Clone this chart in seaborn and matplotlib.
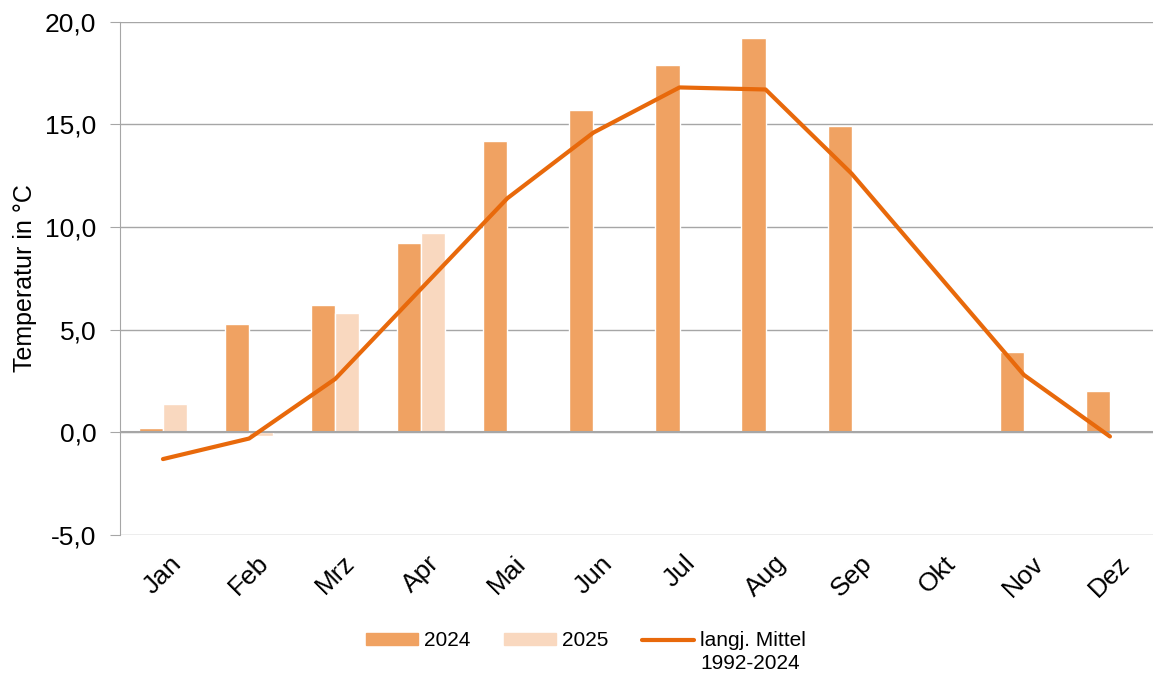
import numpy as np
import pandas as pd
import seaborn as sns
import matplotlib.pyplot as plt
from matplotlib.ticker import FuncFormatter
from matplotlib.patches import Patch
from matplotlib.lines import Line2D

months = ["Jan", "Feb", "Mrz", "Apr", "Mai", "Jun", "Jul", "Aug", "Sep", "Okt", "Nov", "Dez"]
t2024 = [0.2, 5.3, 6.2, 9.2, 14.2, 15.7, 17.9, 19.2, 14.9, np.nan, 3.9, 2.0]
t2025 = [1.4, -0.2, 5.8, 9.7, np.nan, np.nan, np.nan, np.nan, np.nan, np.nan, np.nan, np.nan]
mittel = [-1.3, -0.3, 2.6, 7.0, 11.4, 14.6, 16.8, 16.7, 12.6, 7.7, 2.8, -0.2]

df = pd.DataFrame({
    "Monat": months * 2,
    "Jahr": ["2024"] * 12 + ["2025"] * 12,
    "Temperatur": t2024 + t2025,
})

sns.set_style("white")
plt.rcParams['font.family'] = ['Liberation Sans', 'DejaVu Sans']
plt.rcParams['text.color'] = 'black'
plt.rcParams['xtick.labelcolor'] = 'black'
plt.rcParams['ytick.labelcolor'] = 'black'
plt.rcParams['axes.labelcolor'] = 'black'

fig = plt.figure(figsize=(11.53, 6.79), dpi=100)
ax = fig.add_axes([0.104, 0.212, 0.896, 0.756])

sns.barplot(data=df, x="Monat", y="Temperatur", hue="Jahr", order=months,
            palette={"2024": "#F0A262", "2025": "#F9D8BF"}, width=0.56,
            saturation=1, ax=ax, legend=False)
sns.lineplot(x=np.arange(len(months)), y=mittel, color="#E8690B", linewidth=3,
             ax=ax, legend=False)

ax.set_ylim(-5, 20)
ax.set_xlim(-0.5, 11.5)
ax.set_yticks(np.arange(-5, 20.1, 5))
ax.yaxis.set_major_formatter(FuncFormatter(lambda v, p: f"{v:.1f}".replace(".", ",")))
ax.grid(axis="y", color="#A6A6A6", linewidth=1)
ax.set_axisbelow(True)
ax.axhline(0, color="#A6A6A6", linewidth=1.5, zorder=1)
for s in ["top", "right", "bottom"]:
    ax.spines[s].set_visible(False)
ax.spines["left"].set_color("#A6A6A6")
ax.tick_params(axis="y", left=True, length=7, color="#A6A6A6", labelsize=19, pad=10)
ax.tick_params(axis="x", labelsize=19, pad=8)
plt.setp(ax.get_xticklabels(), rotation=45)
ax.set_xlabel("")
ax.set_ylabel("Temperatur in °C", fontsize=18, labelpad=6)

handles = [Patch(color="#F0A262"), Patch(color="#F9D8BF"),
           Line2D([], [], color="#E8690B", linewidth=3)]
labels = ["2024", "2025", "langj. Mittel"]
leg = fig.legend(handles, labels, loc="center", bbox_to_anchor=(0.508, 0.056),
                 ncol=3, frameon=False, fontsize=15, handlelength=2.5, handleheight=0.55,
                 columnspacing=1.6, handletextpad=0.3)

# second line of the third legend entry, top-aligned like the reference
fig.canvas.draw()
bb = leg.get_texts()[2].get_window_extent()
fig.text(bb.x0 / fig.bbox.width, (bb.y0 - 4) / fig.bbox.height, "1992-2024",
         fontsize=15, ha="left", va="top")

fig.savefig("out.png", dpi=100)
